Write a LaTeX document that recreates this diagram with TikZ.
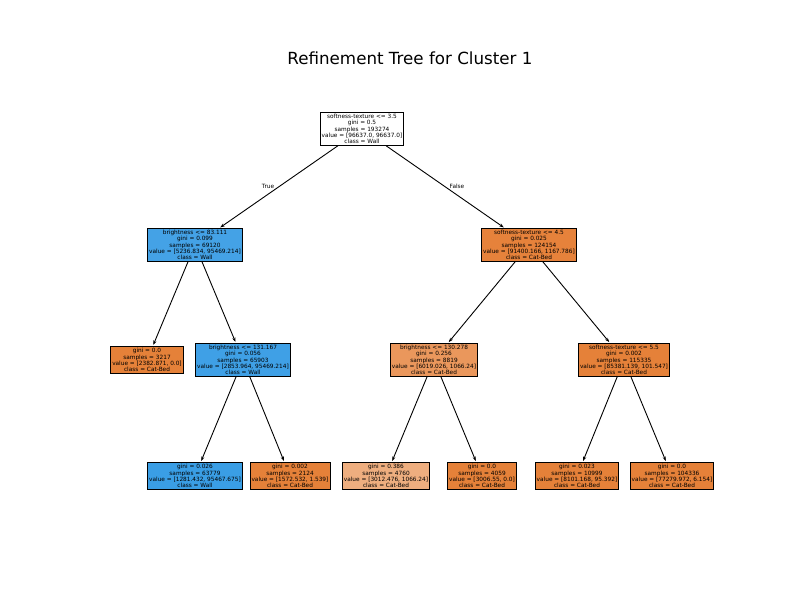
\documentclass[tikz,border=0pt]{standalone}
\usepackage{fontspec}
\setmainfont{DejaVu Sans}
\usetikzlibrary{arrows.meta}
\definecolor{orA}{HTML}{E58139}
\definecolor{orB}{HTML}{E6823B}
\definecolor{orC}{HTML}{EA975C}
\definecolor{orD}{HTML}{EEAE7F}
\definecolor{blA}{HTML}{44A2E6}
\definecolor{blB}{HTML}{3FA0E6}
\definecolor{blC}{HTML}{3A9EE5}
\tikzset{
  treenode/.style={draw=black, line width=0.9pt, align=center, inner xsep=1.6pt, inner ysep=1.6pt,
    font=\fontsize{5.8}{6.2}\selectfont},
  edge/.style={-{Stealth[length=4.5pt,width=3.2pt]}, line width=0.9pt, shorten >=1.5pt},
  elabel/.style={font=\fontsize{5.8}{6.2}\selectfont}
}
\begin{document}
\begin{tikzpicture}[x=1pt,y=-1pt]
\useasboundingbox (0,0) rectangle (800,600);
\node[font=\fontsize{16.7}{19}\selectfont] (title) at (410,58) {Refinement Tree for Cluster 1};

\node[treenode, fill=white] (n0) at (362,129) {softness-texture <= 3.5\\gini = 0.5\\samples = 193274\\value = [96637.0, 96637.0]\\class = Wall};
\node[treenode, fill=blA] (n1) at (195,245) {brightness <= 83.111\\gini = 0.099\\samples = 69120\\value = [5236.834, 95469.214]\\class = Wall};
\node[treenode, fill=orB] (n2) at (529,245) {softness-texture <= 4.5\\gini = 0.025\\samples = 124154\\value = [91400.166, 1167.786]\\class = Cat-Bed};
\node[treenode, fill=orA] (n3) at (147,360) {gini = 0.0\\samples = 3217\\value = [2382.871, 0.0]\\class = Cat-Bed};
\node[treenode, fill=blB] (n4) at (243,360) {brightness <= 131.167\\gini = 0.056\\samples = 65903\\value = [2853.964, 95469.214]\\class = Wall};
\node[treenode, fill=orC] (n5) at (434,360) {brightness <= 130.278\\gini = 0.256\\samples = 8819\\value = [6019.026, 1066.24]\\class = Cat-Bed};
\node[treenode, fill=orA] (n6) at (624,360) {softness-texture <= 5.5\\gini = 0.002\\samples = 115335\\value = [85381.139, 101.547]\\class = Cat-Bed};
\node[treenode, fill=blC] (n7) at (195,476) {gini = 0.026\\samples = 63779\\value = [1281.432, 95467.675]\\class = Wall};
\node[treenode, fill=orA] (n8) at (290,476) {gini = 0.002\\samples = 2124\\value = [1572.532, 1.539]\\class = Cat-Bed};
\node[treenode, fill=orD] (n9) at (386,476) {gini = 0.386\\samples = 4760\\value = [3012.476, 1066.24]\\class = Cat-Bed};
\node[treenode, fill=orA] (n10) at (482,476) {gini = 0.0\\samples = 4059\\value = [3006.55, 0.0]\\class = Cat-Bed};
\node[treenode, fill=orA] (n11) at (577,476) {gini = 0.023\\samples = 10999\\value = [8101.168, 95.392]\\class = Cat-Bed};
\node[treenode, fill=orA] (n12) at (672,476) {gini = 0.0\\samples = 104336\\value = [77279.972, 6.154]\\class = Cat-Bed};

\draw[edge] (n0) -- (n1);
\draw[edge] (n0) -- (n2);
\draw[edge] (n1) -- (n3);
\draw[edge] (n1) -- (n4);
\draw[edge] (n2) -- (n5);
\draw[edge] (n2) -- (n6);
\draw[edge] (n4) -- (n7);
\draw[edge] (n4) -- (n8);
\draw[edge] (n5) -- (n9);
\draw[edge] (n5) -- (n10);
\draw[edge] (n6) -- (n11);
\draw[edge] (n6) -- (n12);

\node[elabel] (lt) at (268,186) {True};
\node[elabel] (lf) at (457,186) {False};
\end{tikzpicture}
\end{document}
